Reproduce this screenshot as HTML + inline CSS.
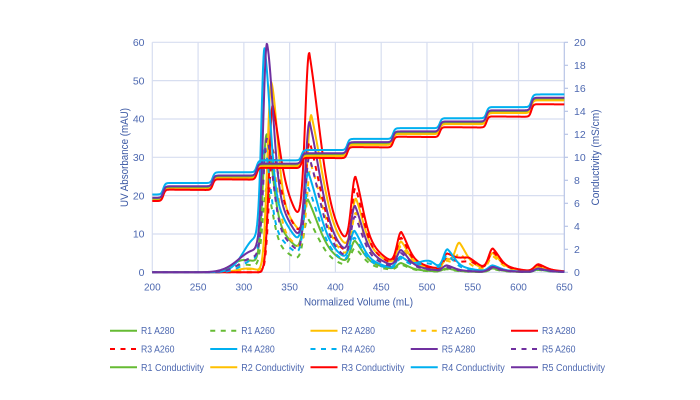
<!DOCTYPE html>
<html><head><meta charset="utf-8">
<style>
html,body{margin:0;padding:0;background:#fff;}
svg{display:block;}
text{font-family:"Liberation Sans",Arial,sans-serif;}
</style></head>
<body>
<svg id="c" width="700" height="400" viewBox="0 0 700 400" xmlns="http://www.w3.org/2000/svg">
<rect width="700" height="400" fill="#fff"/>
<g stroke="#d7def0" stroke-width="1.2" fill="none">
<line x1="152.3" y1="272.3" x2="564.3" y2="272.3"/>
<line x1="152.3" y1="233.97" x2="564.3" y2="233.97"/>
<line x1="152.3" y1="195.63" x2="564.3" y2="195.63"/>
<line x1="152.3" y1="157.3" x2="564.3" y2="157.3"/>
<line x1="152.3" y1="118.97" x2="564.3" y2="118.97"/>
<line x1="152.3" y1="80.63" x2="564.3" y2="80.63"/>
<line x1="152.3" y1="42.3" x2="564.3" y2="42.3"/>
<line x1="152.3" y1="42.3" x2="152.3" y2="272.3"/>
<line x1="198.08" y1="42.3" x2="198.08" y2="272.3"/>
<line x1="243.86" y1="42.3" x2="243.86" y2="272.3"/>
<line x1="289.63" y1="42.3" x2="289.63" y2="272.3"/>
<line x1="335.41" y1="42.3" x2="335.41" y2="272.3"/>
<line x1="381.19" y1="42.3" x2="381.19" y2="272.3"/>
<line x1="426.97" y1="42.3" x2="426.97" y2="272.3"/>
<line x1="472.74" y1="42.3" x2="472.74" y2="272.3"/>
<line x1="518.52" y1="42.3" x2="518.52" y2="272.3"/>
</g>
<g stroke="#b7c4e6" stroke-width="1.2">
<line x1="564.3" y1="42.3" x2="564.3" y2="272.3"/>
<line x1="564.3" y1="272.3" x2="568" y2="272.3"/>
<line x1="564.3" y1="249.3" x2="568" y2="249.3"/>
<line x1="564.3" y1="226.3" x2="568" y2="226.3"/>
<line x1="564.3" y1="203.3" x2="568" y2="203.3"/>
<line x1="564.3" y1="180.3" x2="568" y2="180.3"/>
<line x1="564.3" y1="157.3" x2="568" y2="157.3"/>
<line x1="564.3" y1="134.3" x2="568" y2="134.3"/>
<line x1="564.3" y1="111.3" x2="568" y2="111.3"/>
<line x1="564.3" y1="88.3" x2="568" y2="88.3"/>
<line x1="564.3" y1="65.3" x2="568" y2="65.3"/>
<line x1="564.3" y1="42.3" x2="568" y2="42.3"/>
</g>

<g id="series" fill="none" stroke-width="2" stroke-linejoin="round" stroke-linecap="butt"></g>

<g fill="#4d68b0" font-size="10.5" text-anchor="end">
<text x="144.5" y="276">0</text>
<text x="144.5" y="237.6">10</text>
<text x="144.5" y="199.3">20</text>
<text x="144.5" y="161">30</text>
<text x="144.5" y="122.6">40</text>
<text x="144.5" y="84.3">50</text>
<text x="144.5" y="46">60</text>
</g>
<g fill="#4d68b0" font-size="10.5">
<text x="574" y="276">0</text>
<text x="574" y="253">2</text>
<text x="574" y="230">4</text>
<text x="574" y="207">6</text>
<text x="574" y="184">8</text>
<text x="574" y="161">10</text>
<text x="574" y="138">12</text>
<text x="574" y="115">14</text>
<text x="574" y="92">16</text>
<text x="574" y="69">18</text>
<text x="574" y="46">20</text>
</g>
<g fill="#4d68b0" font-size="10" text-anchor="middle">
<text x="152.3" y="290.5">200</text>
<text x="198.08" y="290.5">250</text>
<text x="243.86" y="290.5">300</text>
<text x="289.63" y="290.5">350</text>
<text x="335.41" y="290.5">400</text>
<text x="381.19" y="290.5">450</text>
<text x="426.97" y="290.5">500</text>
<text x="472.74" y="290.5">550</text>
<text x="518.52" y="290.5">600</text>
<text x="564.3" y="290.5">650</text>
</g>
<g fill="#3d5aa5" font-size="11">
<text x="304" y="305.5" textLength="109" lengthAdjust="spacingAndGlyphs">Normalized Volume (mL)</text>
<text transform="translate(128,157.5) rotate(-90)" text-anchor="middle" textLength="99" lengthAdjust="spacingAndGlyphs">UV Absorbance (mAU)</text>
<text transform="translate(599,157.5) rotate(-90)" text-anchor="middle" textLength="96" lengthAdjust="spacingAndGlyphs">Conductivity (mS/cm)</text>
</g>

<g stroke-width="2" fill="none">
<line x1="110" y1="330.7" x2="137" y2="330.7" stroke="#66bb33"/>
<line x1="210.25" y1="330.7" x2="237.25" y2="330.7" stroke="#66bb33" stroke-dasharray="5 5.5"/>
<line x1="310.5" y1="330.7" x2="337.5" y2="330.7" stroke="#ffc000"/>
<line x1="410.75" y1="330.7" x2="437.75" y2="330.7" stroke="#ffc000" stroke-dasharray="5 5.5"/>
<line x1="511" y1="330.7" x2="538" y2="330.7" stroke="#ff0000"/>

<line x1="110" y1="349" x2="137" y2="349" stroke="#ff0000" stroke-dasharray="5 5.5"/>
<line x1="210.25" y1="349" x2="237.25" y2="349" stroke="#00b0f0"/>
<line x1="310.5" y1="349" x2="337.5" y2="349" stroke="#00b0f0" stroke-dasharray="5 5.5"/>
<line x1="410.75" y1="349" x2="437.75" y2="349" stroke="#7030a0"/>
<line x1="511" y1="349" x2="538" y2="349" stroke="#7030a0" stroke-dasharray="5 5.5"/>

<line x1="110" y1="367.3" x2="137" y2="367.3" stroke="#66bb33"/>
<line x1="210.25" y1="367.3" x2="237.25" y2="367.3" stroke="#ffc000"/>
<line x1="310.5" y1="367.3" x2="337.5" y2="367.3" stroke="#ff0000"/>
<line x1="410.75" y1="367.3" x2="437.75" y2="367.3" stroke="#00b0f0"/>
<line x1="511" y1="367.3" x2="538" y2="367.3" stroke="#7030a0"/>
</g>
<g fill="#4d68b0" font-size="10">
<text x="141" y="334.2" textLength="33.5" lengthAdjust="spacingAndGlyphs">R1 A280</text>
<text x="241.25" y="334.2" textLength="33.5" lengthAdjust="spacingAndGlyphs">R1 A260</text>
<text x="341.5" y="334.2" textLength="33.5" lengthAdjust="spacingAndGlyphs">R2 A280</text>
<text x="441.75" y="334.2" textLength="33.5" lengthAdjust="spacingAndGlyphs">R2 A260</text>
<text x="542" y="334.2" textLength="33.5" lengthAdjust="spacingAndGlyphs">R3 A280</text>

<text x="141" y="352.5" textLength="33.5" lengthAdjust="spacingAndGlyphs">R3 A260</text>
<text x="241.25" y="352.5" textLength="33.5" lengthAdjust="spacingAndGlyphs">R4 A280</text>
<text x="341.5" y="352.5" textLength="33.5" lengthAdjust="spacingAndGlyphs">R4 A260</text>
<text x="441.75" y="352.5" textLength="33.5" lengthAdjust="spacingAndGlyphs">R5 A280</text>
<text x="542" y="352.5" textLength="33.5" lengthAdjust="spacingAndGlyphs">R5 A260</text>

<text x="141" y="370.8" textLength="63" lengthAdjust="spacingAndGlyphs">R1 Conductivity</text>
<text x="241.25" y="370.8" textLength="63" lengthAdjust="spacingAndGlyphs">R2 Conductivity</text>
<text x="341.5" y="370.8" textLength="63" lengthAdjust="spacingAndGlyphs">R3 Conductivity</text>
<text x="441.75" y="370.8" textLength="63" lengthAdjust="spacingAndGlyphs">R4 Conductivity</text>
<text x="542" y="370.8" textLength="63" lengthAdjust="spacingAndGlyphs">R5 Conductivity</text>
</g>
</svg>

<script>
(function(){
var NS="http://www.w3.org/2000/svg";
function X(v){return 152.3+(v-200)*412/450;}
function Y(a){return 272.3-a*230/60;}
function g(p,v){var d=v-p.c;if(d<0)return p.A*Math.exp(-d*d/(2*p.sL*p.sL));
 return p.A*((1-p.f)*Math.exp(-d*d/(2*p.sR*p.sR))+p.f*Math.exp(-d/p.tau));}
function defs(c){
 if(c<350)return {sL:4.3,sR:6.5,f:.5,tau:30};
 if(c<400)return {sL:4.5,sR:12,f:.6,tau:24};
 if(c<450)return {sL:4.5,sR:8,f:.6,tau:20};
 return {sL:4.5,sR:7,f:.6,tau:18};
}
function build(bump,peaks){
 var comps=[];
 if(bump)comps.push({c:bump[0],A:bump[1],sL:bump[2],sR:bump[3],f:0,tau:1});
 peaks.forEach(function(p){
  var d=defs(p[0]),o=p[2]||{};
  var q={c:p[0],A:0,sL:o.sL||d.sL,sR:o.sR||d.sR,f:(o.f!==undefined?o.f:d.f),tau:o.tau||d.tau};
  var base=0;comps.forEach(function(k){base+=g(k,q.c);});
  q.A=Math.max(p[1]-base,0.05);comps.push(q);
 });
 return function(v){var s=0;for(var i=0;i<comps.length;i++)s+=g(comps[i],v);return s;};
}
var RED1={sL:4,sR:7,f:.8,tau:32};
var series=[
 {col:"#66bb33",dash:false,fn:build([300,3.2,13,25],[[325,36,{tau:33}],[370,19],[421.5,8.2],[472,2.4],[522,1.0],[572,1.0],[622,0.7]])},
 {col:"#66bb33",dash:true,fn:build([300,2.0,13,20],[[325,22,{tau:30}],[370,14],[421.5,6.3],[472,2.0],[522,0.8],[572,0.8],[622,0.6]])},
 {col:"#ffc000",dash:false,fn:build([305,1,12,10],[[330,49.6,{tau:37}],[373.7,41],[422.5,19.2],[472,8],[522,3.5],[535.6,7.7],[572,5.0],[622,1.5]])},
 {col:"#ffc000",dash:true,fn:build([305,0.8,12,10],[[330,30,{tau:37}],[373.5,28],[422.5,15.5],[472,6.8],[522,3.0],[536,4.9],[572,4.2],[622,1.3]])},
 {col:"#ff0000",dash:false,fn:build(null,[[331.5,43.6,RED1],[371.5,57.2],[422,24.9],[472,10.5],[522,4.2],[546,3.8,{sL:14,sR:10,f:.5,tau:15}],[572,6.2],[622,2.1]])},
 {col:"#ff0000",dash:true,fn:build(null,[[331.5,32,RED1],[372,34],[422,22],[472,9.0],[522,3.5],[548,2.8,{sL:14,sR:10,f:.5,tau:15}],[572,5.4],[622,1.8]])},
 {col:"#00b0f0",dash:false,fn:build([314,9,14,5],[[322.7,58.4,{sL:3.5,sR:6}],[370.5,26],[421,10.8],[471.5,4.0],[502,3.0,{sL:12,sR:8,f:0.01,tau:10}],[522.5,6.0],[572,1.8],[622,0.9]])},
 {col:"#00b0f0",dash:true,fn:build([314,3.5,14,5],[[322.7,33,{sL:3.5,sR:6}],[370.5,22],[421,9],[471.5,3.5],[502,2.3,{sL:12,sR:8,f:0.01,tau:10}],[522.5,4.5],[572,1.5],[622,0.8]])},
 {col:"#7030a0",dash:false,fn:build([313,5.8,18,5],[[325.3,59.7],[371.8,39.2],[421.5,17.3],[472,5.8],[522,1.8],[572,1.4],[622,1.0]])},
 {col:"#7030a0",dash:true,fn:build([313,4,16,5],[[325.3,34.9],[371.5,30],[421.5,14.5],[472,5.0],[522,1.3],[572,1.1],[622,0.8]])}
];
var steps=[212,266,314,363,413,463,514,565,614];
var lv=[20.3,23.3,26.1,29.2,31.9,34.8,37.6,40.2,43.1,46.4];
function cond(v){var s=lv[0];for(var i=0;i<steps.length;i++){s+=(lv[i+1]-lv[i])/(1+Math.exp(-(v-steps[i])/1.1));}return s;}
var condS=[
 {col:"#66bb33",off:function(v){return -1.25;}},
 {col:"#ffc000",off:function(v){return -1.55;}},
 {col:"#ff0000",off:function(v){return -(1.7+0.9*(v-200)/450);}},
 {col:"#00b0f0",off:function(v){return 0;}},
 {col:"#7030a0",off:function(v){return -0.85;}}
];
var grp=document.getElementById("series");
function addPath(f,col,dash){
 var d="";
 for(var v=200;v<=650.001;v+=0.5){
  var a=f(v);if(a<0)a=0;if(a>60)a=60;
  d+=(v===200?"M":"L")+X(v).toFixed(2)+","+Y(a).toFixed(2);
 }
 var p=document.createElementNS(NS,"path");
 p.setAttribute("d",d);p.setAttribute("stroke",col);
 if(dash)p.setAttribute("stroke-dasharray","5 5.5");
 grp.appendChild(p);
}
series.forEach(function(s){addPath(s.fn,s.col,s.dash);});
condS.forEach(function(s){addPath(function(v){return cond(v)+s.off(v);},s.col,false);});
})();
</script>
</body></html>
